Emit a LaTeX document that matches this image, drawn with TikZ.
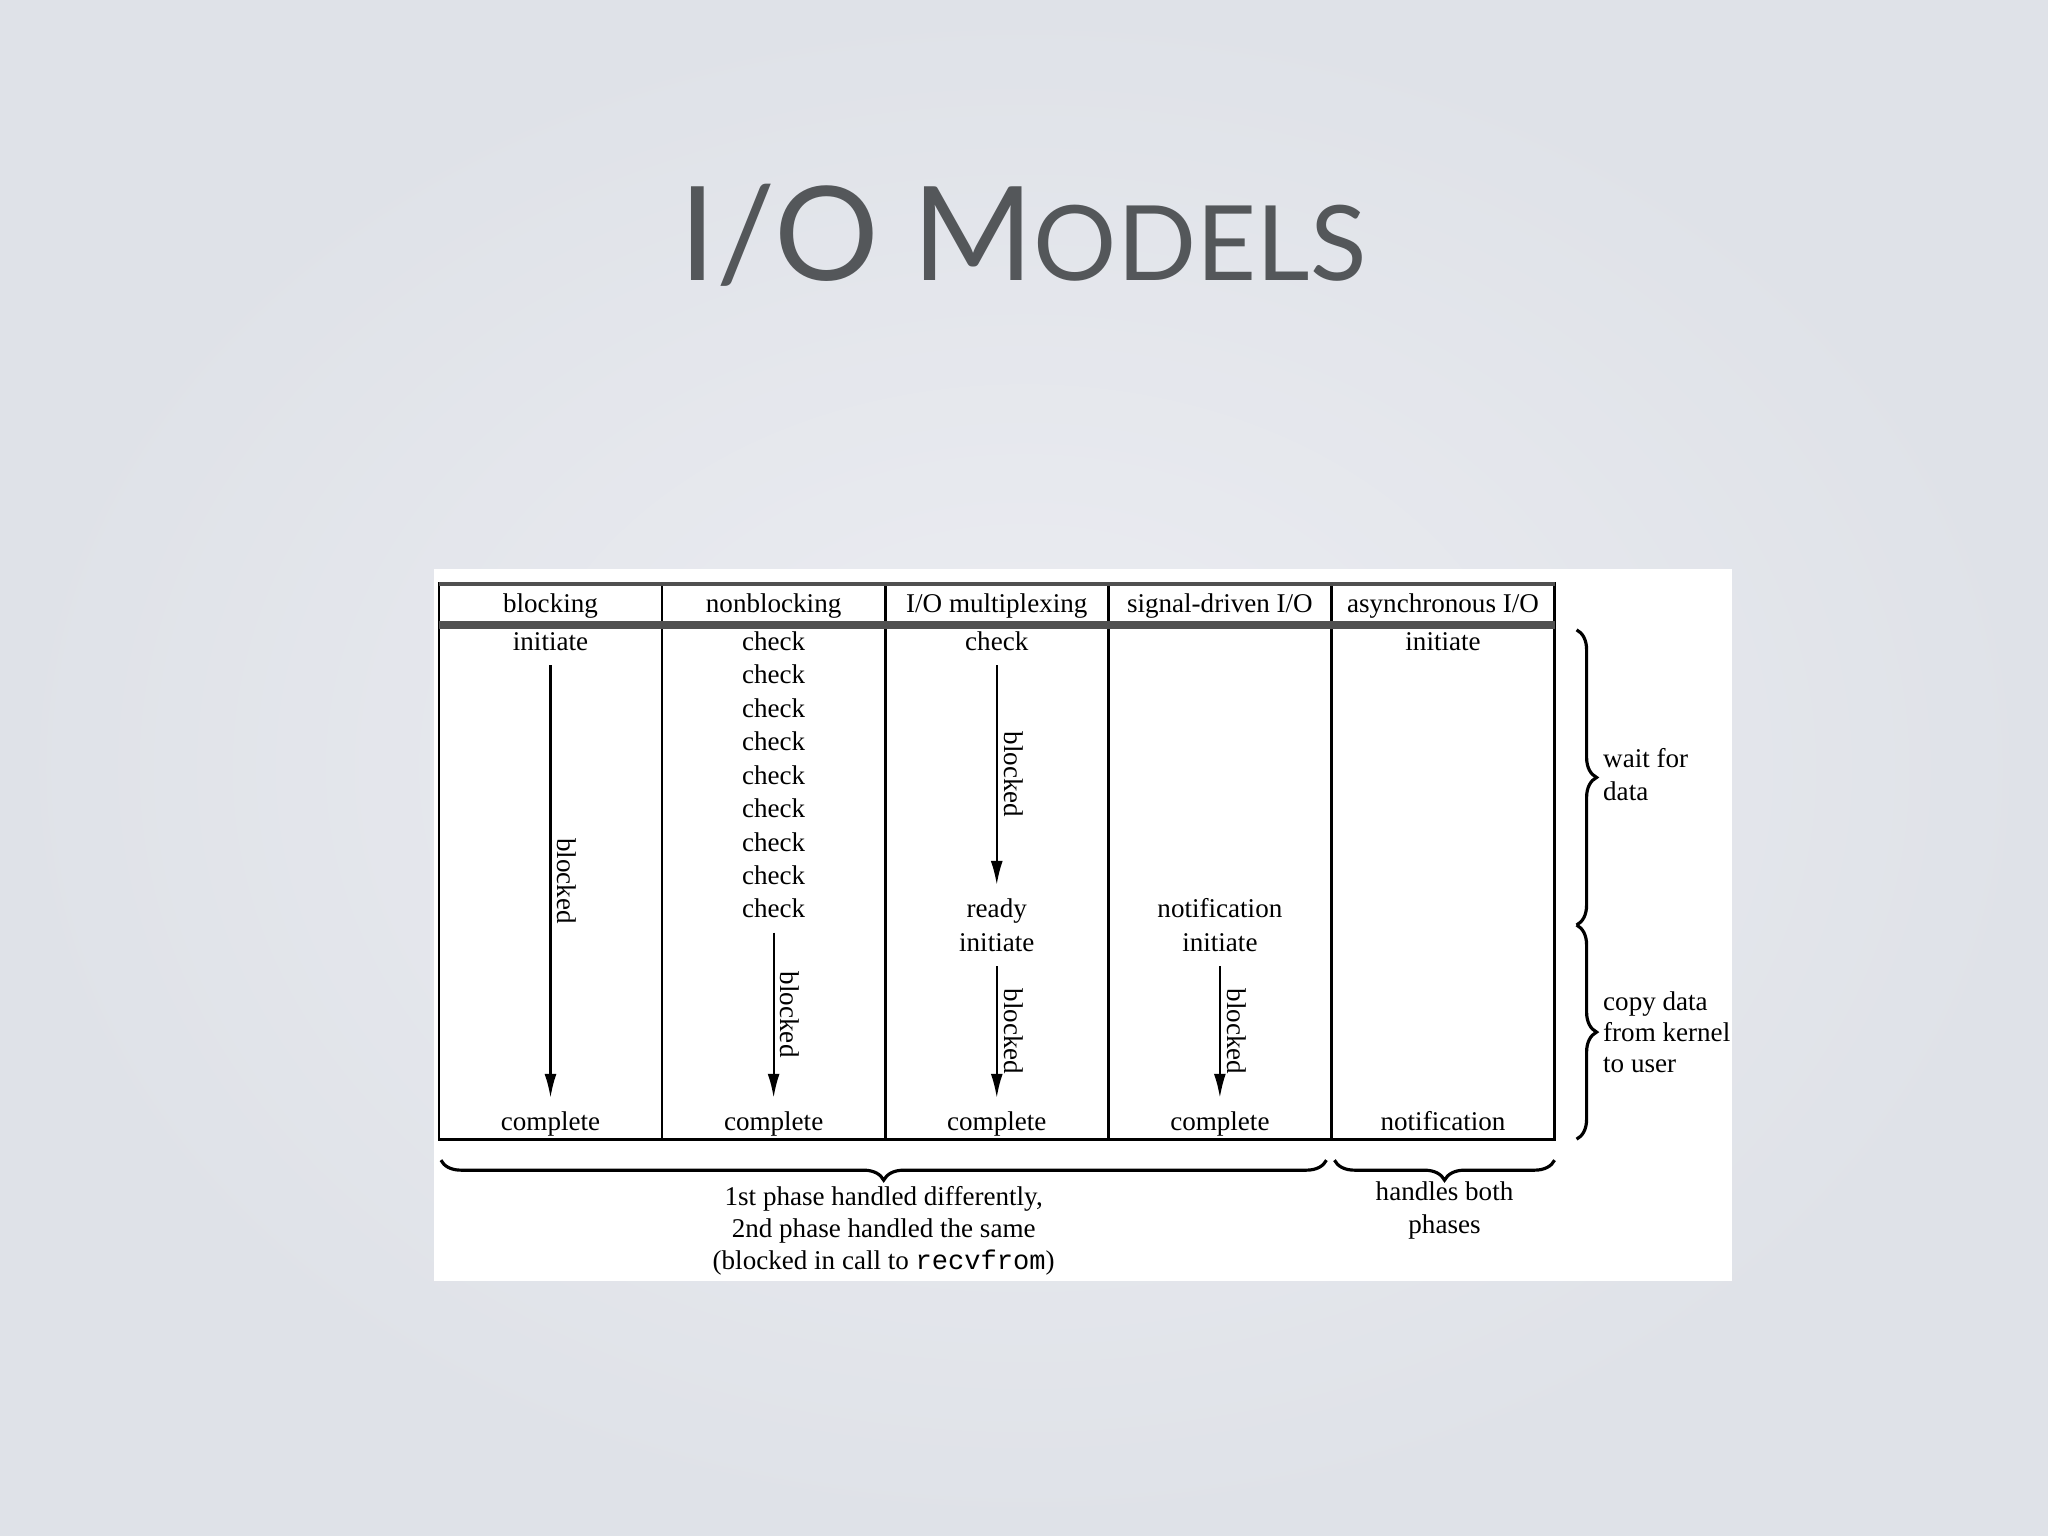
\documentclass[tikz,border=0pt]{standalone}
\usepackage{fontspec}
\setmainfont{Liberation Serif}
\setmonofont{Liberation Mono}
\newfontfamily\titlefont{Lato}
\usetikzlibrary{arrows.meta,positioning,decorations.pathreplacing}
\definecolor{slidein}{RGB}{236,237,242}
\definecolor{slideout}{RGB}{223,226,232}
\definecolor{titlegray}{RGB}{84,87,90}
\definecolor{rulegray}{RGB}{80,80,80}

\begin{document}
\begin{tikzpicture}[
    x=0.01cm,
    y=0.01cm,
    node distance=0.334cm,
    >={Latex[length=2.4mm,width=1.2mm]},
    font=\fontsize{7.7}{9.4}\selectfont,
    slide/.style={
		rectangle,
		inner sep=0pt,
		outer sep=0pt,
		minimum width=20.48cm,
		minimum height=15.36cm,
		inner color=slidein,
		outer color=slideout
	},
	slidetitle/.style={
		font=\titlefont,
		text=titlegray,
		inner sep=0pt
	},
	panel/.style={
		rectangle,
		fill=white,
		inner sep=0pt,
		outer sep=0pt,
		minimum width=12.98cm,
		minimum height=7.12cm
	},
	iocol/.style={
		rectangle,
		draw=black,
		line width=0.8pt,
		inner sep=0pt,
		outer sep=0pt,
		minimum width=2.23cm,
		minimum height=5.55cm
	},
	cell/.style={
		rectangle,
		text centered,
		inner sep=1pt,
		text height=1.6ex,
		text depth=0.4ex
	},
	blk/.style={
		->,
		line width=0.6pt,
		shorten <=0.04cm,
		shorten >=0.03cm
	},
	blklabel/.style={
		midway,
		rotate=-90,
		anchor=south,
		inner sep=0.06cm
	},
	phase/.style={
		decorate,
		decoration={brace, amplitude=0.2cm},
		line width=0.9pt
	},
	phasenote/.style={
		inner sep=0pt,
		align=center
	},
	sidenote/.style={
		inner sep=0pt,
		align=left
	}
  ]

\useasboundingbox (0,0) rectangle (2048,1536);
\node [slide] (bg) at (1024,768) {};

 % // title
 \node [slidetitle, anchor=base] (ttl) at (1023,1255)
 {\fontsize{37.2}{37.2}\selectfont I/O M\fontsize{29.6}{29.6}\selectfont ODELS};

 % // the figure
 \node [panel] (pnl) at (1083,611) {};

 \node [iocol] (c1) at (550.5,674.5) {};
 \node [iocol, right=0pt of c1] (c2) {};
 \node [iocol, right=0pt of c2] (c3) {};
 \node [iocol, right=0pt of c3] (c4) {};
 \node [iocol, right=0pt of c4] (c5) {};

 \draw [line width=1.1pt, draw=rulegray] (c1.north west) -- (c5.north east);
 \draw [line width=2.1pt, draw=rulegray] ([yshift=-0.41cm]c1.north west) -- ([yshift=-0.41cm]c5.north east);

 % headers
 \node [cell] (h1) at ([yshift=-0.19cm]c1.north) {blocking};
 \node [cell] (h2) at ([yshift=-0.19cm]c2.north) {nonblocking};
 \node [cell] (h3) at ([yshift=-0.19cm]c3.north) {I/O multiplexing};
 \node [cell] (h4) at ([yshift=-0.19cm]c4.north) {signal-driven I/O};
 \node [cell] (h5) at ([yshift=-0.19cm]c5.north) {asynchronous I/O};

 % blocking
 \node [cell] (b1) at ([yshift=-0.57cm]c1.north) {initiate};
 \node [cell] (b2) at ([yshift=0.18cm]c1.south) {complete};
 \draw [blk] (b1) -- node [blklabel] {blocked} (b2);

 % nonblocking
 \node [cell] (nb1) at ([yshift=-0.57cm]c2.north) {check};
 \node [cell, below of=nb1] (nb2) {check};
 \node [cell, below of=nb2] (nb3) {check};
 \node [cell, below of=nb3] (nb4) {check};
 \node [cell, below of=nb4] (nb5) {check};
 \node [cell, below of=nb5] (nb6) {check};
 \node [cell, below of=nb6] (nb7) {check};
 \node [cell, below of=nb7] (nb8) {check};
 \node [cell, below of=nb8] (nb9) {check};
 \node [cell] (nb10) at ([yshift=0.18cm]c2.south) {complete};
 \draw [blk] (nb9) -- node [blklabel] {blocked} (nb10);

 % I/O multiplexing
 \node [cell] (mx1) at ([yshift=-0.57cm]c3.north) {check};
 \node [cell, below of=mx1, node distance=2.672cm] (mx2) {ready};
 \node [cell, below of=mx2] (mx3) {initiate};
 \node [cell] (mx4) at ([yshift=0.18cm]c3.south) {complete};
 \draw [blk] (mx1) -- node [blklabel] {blocked} (mx2);
 \draw [blk] (mx3) -- node [blklabel] {blocked} (mx4);

 % signal-driven I/O
 \node [cell] (sg1) at ([yshift=-3.242cm]c4.north) {notification};
 \node [cell, below of=sg1] (sg2) {initiate};
 \node [cell] (sg3) at ([yshift=0.18cm]c4.south) {complete};
 \draw [blk] (sg2) -- node [blklabel] {blocked} (sg3);

 % asynchronous I/O
 \node [cell] (as1) at ([yshift=-0.57cm]c5.north) {initiate};
 \node [cell] (as2) at ([yshift=0.18cm]c5.south) {notification};

 % // the braces
 \coordinate (wt) at ([xshift=0.22cm, yshift=-0.46cm]c5.north east);
 \coordinate (wm) at ([xshift=0.22cm, yshift=-3.41cm]c5.north east);
 \coordinate (wb) at ([xshift=0.22cm]c5.south east);
 \draw [phase] (wt) -- node [sidenote, right=0.25cm, yshift=0.03cm] (wait) {wait for\\data} (wm);
 \draw [phase] (wm) -- node [sidenote, right=0.25cm, font=\fontsize{7.7}{8.9}\selectfont] (copy) {copy data\\from kernel\\to user} (wb);

 \coordinate (p1l) at ([xshift=0.02cm, yshift=-0.21cm]c1.south west);
 \coordinate (p1r) at ([xshift=-0.05cm, yshift=-0.21cm]c4.south east);
 \coordinate (p2l) at ([xshift=0.03cm, yshift=-0.21cm]c5.south west);
 \coordinate (p2r) at ([yshift=-0.21cm]c5.south east);
 \draw [phase] (p1r) -- node [phasenote, below=0.25cm, font=\fontsize{7.7}{9.1}\selectfont] (ph1)
 {1st phase handled differently,\\2nd phase handled the same\\(blocked in call to \texttt{recvfrom})} (p1l);
 \draw [phase] (p2r) -- node [phasenote, below=0.2cm] (ph2) {handles both\\phases} (p2l);

\end{tikzpicture}
\end{document}
